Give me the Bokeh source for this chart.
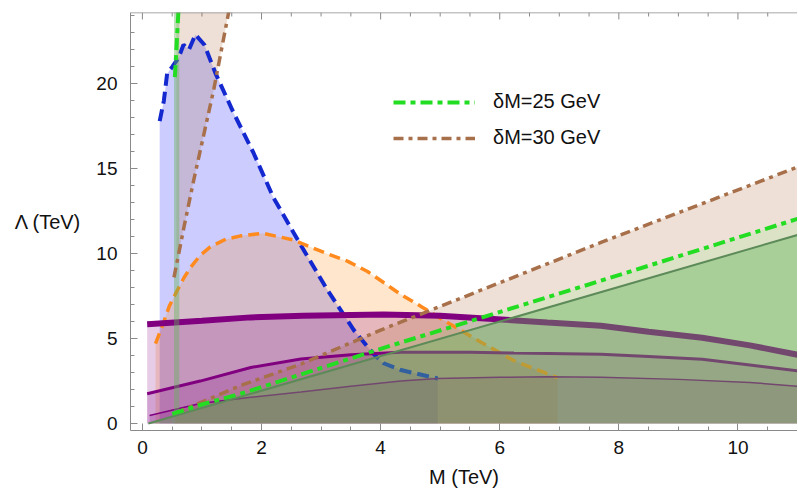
from bokeh.plotting import figure
from bokeh.models import Range1d, FixedTicker, Legend, LegendItem, Span
from bokeh.embed import file_html
from bokeh.resources import INLINE

# ---------------- data ----------------
x_major = [0, 2, 4, 6, 8, 10]
x_minor = [i * 0.5 for i in range(0, 23)]
y_major = [0, 5, 10, 15, 20]
y_minor = list(range(0, 25))

blue_M = [0.29, 0.36, 0.415, 0.5, 0.61, 0.69, 0.78, 0.89, 1.04, 1.23, 1.53, 1.87, 2.2, 2.66, 3.1, 3.55, 3.88, 4.05, 4.34, 4.96]
blue_L = [17.8, 19.0, 20.6, 21.0, 21.55, 22.3, 22.0, 22.9, 22.3, 20.6, 18.3, 15.9, 13.3, 10.5, 7.9, 5.5, 4.1, 3.55, 3.15, 2.65]

orange_M = [0.22, 0.33, 0.45, 0.58, 0.7, 0.81, 0.97, 1.14, 1.4, 1.65, 2.03, 2.54, 3.1, 3.45, 3.78, 4.05, 4.34, 4.7, 5.12, 5.68, 6.24, 6.97]
orange_L = [4.7, 5.7, 6.9, 7.8, 8.6, 9.2, 9.9, 10.4, 10.85, 11.05, 11.2, 10.8, 10.0, 9.55, 8.95, 8.3, 7.6, 6.85, 5.95, 4.8, 3.7, 2.7]

purple1_M = [0.08, 1.0, 1.82, 2.7, 4.05, 5.0, 5.68, 6.8, 7.7, 8.5, 9.4, 10.2, 11.0]
purple1_L = [5.85, 6.05, 6.25, 6.35, 6.42, 6.35, 6.2, 5.95, 5.76, 5.4, 5.05, 4.6, 4.05]

purple2_M = [0.08, 0.97, 1.82, 2.66, 3.5, 4.34, 5.5, 6.24, 7.7, 8.5, 9.4, 10.2, 11.0]
purple2_L = [1.75, 2.5, 3.3, 3.8, 4.05, 4.2, 4.2, 4.15, 4.08, 3.95, 3.78, 3.45, 3.1]

purple3_M = [0.12, 0.97, 1.82, 2.66, 3.5, 4.34, 4.96, 6.0, 6.8, 7.7, 9.0, 10.2, 11.0]
purple3_L = [0.47, 1.18, 1.55, 1.85, 2.2, 2.5, 2.65, 2.72, 2.75, 2.72, 2.6, 2.42, 2.2]

brown_low_M = [0.55, 1.65, 2.66, 4.0, 7.7, 11.0]
brown_low_L = [0.6, 2.24, 3.5, 5.5, 10.66, 15.1]
brown_up_M = [0.53, 0.7, 0.86, 1.03, 1.2, 1.47]
brown_up_L = [8.6, 11.6, 14.3, 17.0, 19.7, 24.6]
brown_up_left = 0.57

green_low_M = [0.5, 1.0, 1.73, 4.0, 7.7, 11.0]
green_low_L = [0.57, 1.12, 1.84, 4.4, 8.41, 12.05]
green_up_M = [0.545, 0.61]
green_up_L = [20.4, 24.6]

green_region_M = [0.1, 0.53, 0.53, 0.62, 0.62, 11.0, 11.0]
green_region_L = [0.0, 0.44, 24.6, 24.6, 0.53, 11.1, 0.0]
green_edge_M = [0.1, 11.0]
green_edge_L = [0.0, 11.1]

legend_labels = ["\u03b4M=25 GeV", "\u03b4M=30 GeV"]

# ---------------- figure ----------------
FONT = "Liberation Sans"
Y0, Y1 = -0.41, 24.2
p = figure(width=797, height=492, output_backend="svg", toolbar_location=None,
           x_range=Range1d(-0.2, 11.0), y_range=Range1d(Y0, Y1),
           min_border_left=130, min_border_right=0, min_border_top=12, min_border_bottom=62)
p.xgrid.visible = False
p.ygrid.visible = False
p.outline_line_color = None

AX = "#8a8a8a"

def style_axis(ax, ticks, minor):
    ax.ticker = FixedTicker(ticks=ticks, minor_ticks=minor)
    ax.axis_line_color = AX
    ax.major_tick_line_color = AX
    ax.minor_tick_line_color = AX
    ax.major_tick_in = 7
    ax.major_tick_out = 0
    ax.minor_tick_in = 4
    ax.minor_tick_out = 0
    ax.major_label_text_font = FONT
    ax.major_label_text_font_size = "19px"
    ax.major_label_text_color = "#111111"
    ax.axis_label_text_font = FONT
    ax.axis_label_text_font_size = "20px"
    ax.axis_label_text_font_style = "normal"
    ax.axis_label_text_color = "#111111"

xa = p.xaxis[0]
style_axis(xa, x_major, x_minor)
xa.axis_label = "M (TeV)"
xa.major_label_standoff = 10
xa.axis_label_standoff = 9

ya = p.yaxis[0]
style_axis(ya, y_major, y_minor)
ya.axis_label = "\u039b (TeV)"
ya.axis_label_orientation = "horizontal"
ya.major_label_standoff = 13
ya.axis_label_standoff = 12

# top frame line with inward ticks, built from the tick arrays
px_per_unit = (430 - 12) / (Y1 - Y0)
maj_len = 7 / px_per_unit
min_len = 4 / px_per_unit
p.add_layout(Span(location=Y1, dimension="width", line_color=AX, line_width=1.5))
top_minor = [t for t in x_minor if t not in x_major]
p.segment(x0=x_major, y0=Y1, x1=x_major, y1=Y1 - maj_len, line_color=AX, line_width=1)
p.segment(x0=top_minor, y0=Y1, x1=top_minor, y1=Y1 - min_len, line_color=AX, line_width=1)

# ---------------- fills ----------------
p.varea(x=blue_M, y1=0, y2=blue_L, fill_color="#0000ff", fill_alpha=0.2)
p.varea(x=orange_M, y1=0, y2=orange_L, fill_color="#ff8000", fill_alpha=0.2)
for xm, yl in [(purple1_M, purple1_L), (purple2_M, purple2_L), (purple3_M, purple3_L)]:
    p.varea(x=xm, y1=0, y2=yl, fill_color="#800080", fill_alpha=0.2)
p.varea(x=brown_low_M, y1=0, y2=brown_low_L, fill_color="#aa6432", fill_alpha=0.2)
p.harea(y=brown_up_L, x1=brown_up_left, x2=brown_up_M, fill_color="#aa6432", fill_alpha=0.2)
p.varea(x=green_low_M, y1=0, y2=green_low_L, fill_color="#00ff00", fill_alpha=0.08)

# ---------------- lines under the green region ----------------
p.line(blue_M, blue_L, line_color="#1428d0", line_width=4, line_dash="12 6")
p.line(orange_M, orange_L, line_color="#ff8a1e", line_width=3.5, line_dash="11 6")
p.line(purple1_M, purple1_L, line_color="#800080", line_width=6)
p.line(purple2_M, purple2_L, line_color="#800080", line_width=3)
p.line(purple3_M, purple3_L, line_color="#800080", line_width=1.5)

# ---------------- green region ----------------
p.patch(green_region_M, green_region_L, fill_color="#5eb456", fill_alpha=0.4, line_color=None)
p.line(green_edge_M, green_edge_L, line_color="#5c8a58", line_width=2)

# ---------------- dot-dashed boundaries ----------------
r_b = p.line(brown_low_M, brown_low_L, line_color="#a8704a", line_width=3.5, line_dash="10 5 4 5")
p.line(brown_up_M, brown_up_L, line_color="#a8704a", line_width=3.5, line_dash="10 5 4 5")
r_g = p.line(green_low_M, green_low_L, line_color="#22dd22", line_width=4, line_dash="12 5 5 5")
p.line(green_up_M, green_up_L, line_color="#22dd22", line_width=4, line_dash="12 5 5 5")

legend = Legend(items=[LegendItem(label=legend_labels[0], renderers=[r_g]),
                       LegendItem(label=legend_labels[1], renderers=[r_b])],
                location=(263, 281), glyph_width=82, glyph_height=20, label_standoff=18,
                spacing=13, padding=0, margin=0,
                label_text_font=FONT, label_text_font_size="20px", label_text_color="#111111",
                background_fill_alpha=0, border_line_alpha=0)
p.add_layout(legend, "center")

open("out.html", "w").write(file_html(p, INLINE))
